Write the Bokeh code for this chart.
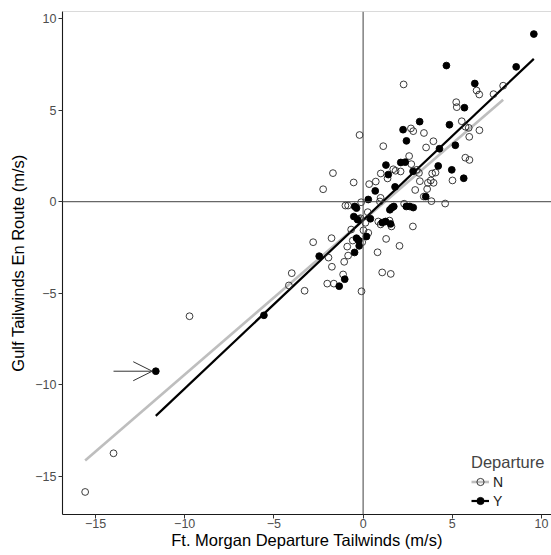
import numpy as np
from bokeh.plotting import figure
from bokeh.models import (Range1d, FixedTicker, Span, Arrow, OpenHead, Legend, LegendItem)
from bokeh.embed import file_html
from bokeh.resources import INLINE

# ---- data ----
n_x = [2.27, 6.36, 6.51, 7.31, 7.85, 5.22, 5.25, 5.53, 5.74, 5.92, 6.52, 5.95, 2.68, 2.81, 3.41,
       3.94, 3.53, 2.58, 2.70, 5.73, 5.96, 1.69, 1.82, 2.10, 0.99, 1.37, 3.01, 3.13, 3.87, 4.06,
       5.01, 3.18, 3.63, 3.79, 3.95, 3.59, 2.92, 0.34, 0.71, 1.13, -0.20, -1.69, -0.53, -2.24, 0.98,
       3.40, -0.99, -0.84, -0.11, 0.26, -0.24, -0.15, 0.13, -0.67, 0.29, 0.02, -0.58, -0.05, -0.89,
       -1.77, -2.80, -1.94, -0.84, -1.75, -1.06, -4.00, -3.28, -2.01, -1.64, -1.12, -0.09, 0.81, 1.29,
       1.07, 1.55, 2.04, 2.79, 0.85, 0.98, 1.48, 1.59, 0.94, 2.30, 3.83, 4.60, -4.16, -9.73, -13.99,
       -15.58]
n_y = [6.40, 6.07, 5.85, 5.87, 6.33, 5.43, 5.16, 4.39, 4.09, 4.03, 3.90, 3.54, 4.00, 3.85, 3.75,
       3.30, 2.96, 2.49, 2.05, 2.40, 2.28, 1.77, 1.69, 1.65, 1.54, 1.27, 1.74, 1.57, 1.54, 1.59,
       1.16, 1.12, 1.03, 1.16, 1.03, 0.69, 0.64, 0.96, 1.10, 3.03, 3.64, 1.56, 1.05, 0.68, 0.21,
       0.28, -0.21, -0.21, -0.03, -0.57, -0.93, -0.90, -1.15, -1.52, -1.70, -1.56, -2.12, -2.21, -2.45,
       -1.99, -2.21, -3.05, -2.94, -3.55, -3.28, -3.90, -4.86, -4.47, -4.47, -3.97, -4.89, -2.76, -2.03,
       -3.86, -3.94, -2.41, -1.35, -1.08, -1.24, -1.03, -1.35, 0.01, -0.11, 0.03, -0.10, -4.57, -6.25,
       -13.73, -15.84]

y_x = [9.57, 4.67, 8.58, 6.26, 5.68, 4.84, 3.17, 2.24, 2.43, 4.28, 5.17, 2.11, 2.36, 1.28, 4.21,
       1.41, 2.80, 4.97, 5.64, 1.79, 0.68, 0.29, 3.51, -0.47, -0.37, -0.52, -0.31, 0.41, -0.37, -0.24,
       0.19, -0.22, -2.46, -0.48, -1.03, -1.34, 1.07, 1.26, 1.54, 1.50, 1.61, 1.72, 2.42, 2.62, 2.81,
       -5.56, -11.62]
y_y = [9.15, 7.43, 7.36, 6.45, 5.13, 4.20, 4.37, 3.93, 3.32, 2.89, 3.08, 2.14, 2.16, 2.00, 1.95,
       1.48, 1.66, 1.74, 1.28, 0.81, 0.59, 0.12, 0.28, -0.26, -0.35, -0.81, -0.98, -0.93, -1.99, -2.12,
       -1.90, -2.41, -2.97, -2.77, -4.23, -4.61, -1.14, -1.08, -1.21, -0.44, -0.33, -0.26, -0.26, -0.26, -0.32,
       -6.20, -9.25]

highlight_index = len(y_x) - 1   # the point marked with an arrow (group Y)

x_ticks = [-15, -10, -5, 0, 5, 10]
y_ticks = [-15, -10, -5, 0, 5, 10]

FONT = "Liberation Sans"

p = figure(width=551, height=555, output_backend="svg", toolbar_location=None,
           x_range=Range1d(-16.85, 10.56), y_range=Range1d(-17.07, 10.38),
           min_border_left=62, min_border_right=0, min_border_top=11, min_border_bottom=41)
p.background_fill_color = "white"
p.border_fill_color = "white"
p.outline_line_color = None
p.xgrid.visible = False
p.ygrid.visible = False

# zero lines and top panel border
p.add_layout(Span(location=0, dimension="height", line_color="#404040", line_width=1))
p.add_layout(Span(location=0, dimension="width", line_color="#404040", line_width=1))
p.add_layout(Span(location=p.y_range.end, dimension="width", line_color="#B5B5B5", line_width=1.2))

# regression lines (least squares per group)
def fit_line(xs, ys):
    xs = np.asarray(xs); ys = np.asarray(ys)
    b, a = np.polyfit(xs, ys, 1)
    xx = np.array([xs.min(), xs.max()])
    return xx, a + b * xx

lnx, lny = fit_line(n_x, n_y)
lyx, lyy = fit_line(y_x, y_y)

line_n = p.line(lnx, lny, line_color="#BEBEBE", line_width=2.6)
line_y = p.line(lyx, lyy, line_color="black", line_width=2.2)

sc_n = p.scatter(n_x, n_y, marker="circle", size=6.8, fill_color=None,
                 line_color="#262626", line_width=0.9)
sc_y = p.scatter(y_x, y_y, marker="circle", size=6.8, fill_color="black",
                 line_color="black", line_width=0.9)

# arrow pointing to the highlighted point
hx, hy = y_x[highlight_index], y_y[highlight_index]
p.add_layout(Arrow(end=OpenHead(size=19, line_color="#333333", line_width=1),
                   x_start=hx - 2.37, y_start=hy, x_end=hx - 0.2, y_end=hy,
                   line_color="#333333", line_width=1))

# axes
for ax in (p.xaxis[0], p.yaxis[0]):
    ax.axis_line_color = "#1a1a1a"
    ax.axis_line_width = 1.1
    ax.major_tick_line_color = "#333333"
    ax.major_tick_in = 0
    ax.major_tick_out = 4
    ax.minor_tick_line_color = None
    ax.major_label_text_font = FONT
    ax.major_label_text_font_size = "12.5px"
    ax.major_label_text_color = "#4D4D4D"
    ax.axis_label_text_font = FONT
    ax.axis_label_text_font_size = "16.5px"
    ax.axis_label_text_font_style = "normal"
    ax.axis_label_text_color = "black"

p.xaxis.ticker = FixedTicker(ticks=x_ticks)
p.yaxis.ticker = FixedTicker(ticks=y_ticks)
p.xaxis.axis_label = "Ft. Morgan Departure Tailwinds (m/s)"
p.yaxis.axis_label = "Gulf Tailwinds En Route (m/s)"
p.xaxis.major_label_standoff = 0
p.yaxis.major_label_standoff = 2
p.xaxis.axis_label_standoff = 0
p.yaxis.axis_label_standoff = 5

legend = Legend(items=[LegendItem(label="N", renderers=[line_n, sc_n]),
                       LegendItem(label="Y", renderers=[line_y, sc_y])],
                location=(409, 4), title="Departure",
                title_text_font=FONT, title_text_font_size="16.5px", title_text_font_style="normal",
                label_text_font=FONT, label_text_font_size="14px", label_text_color="#1a1a1a",
                glyph_width=18, glyph_height=19, label_height=19, label_standoff=4,
                spacing=0, padding=8, margin=0, title_standoff=0,
                background_fill_color="white", background_fill_alpha=1.0,
                border_line_color=None)
p.add_layout(legend)

open("out.html", "w").write(file_html(p, INLINE))
